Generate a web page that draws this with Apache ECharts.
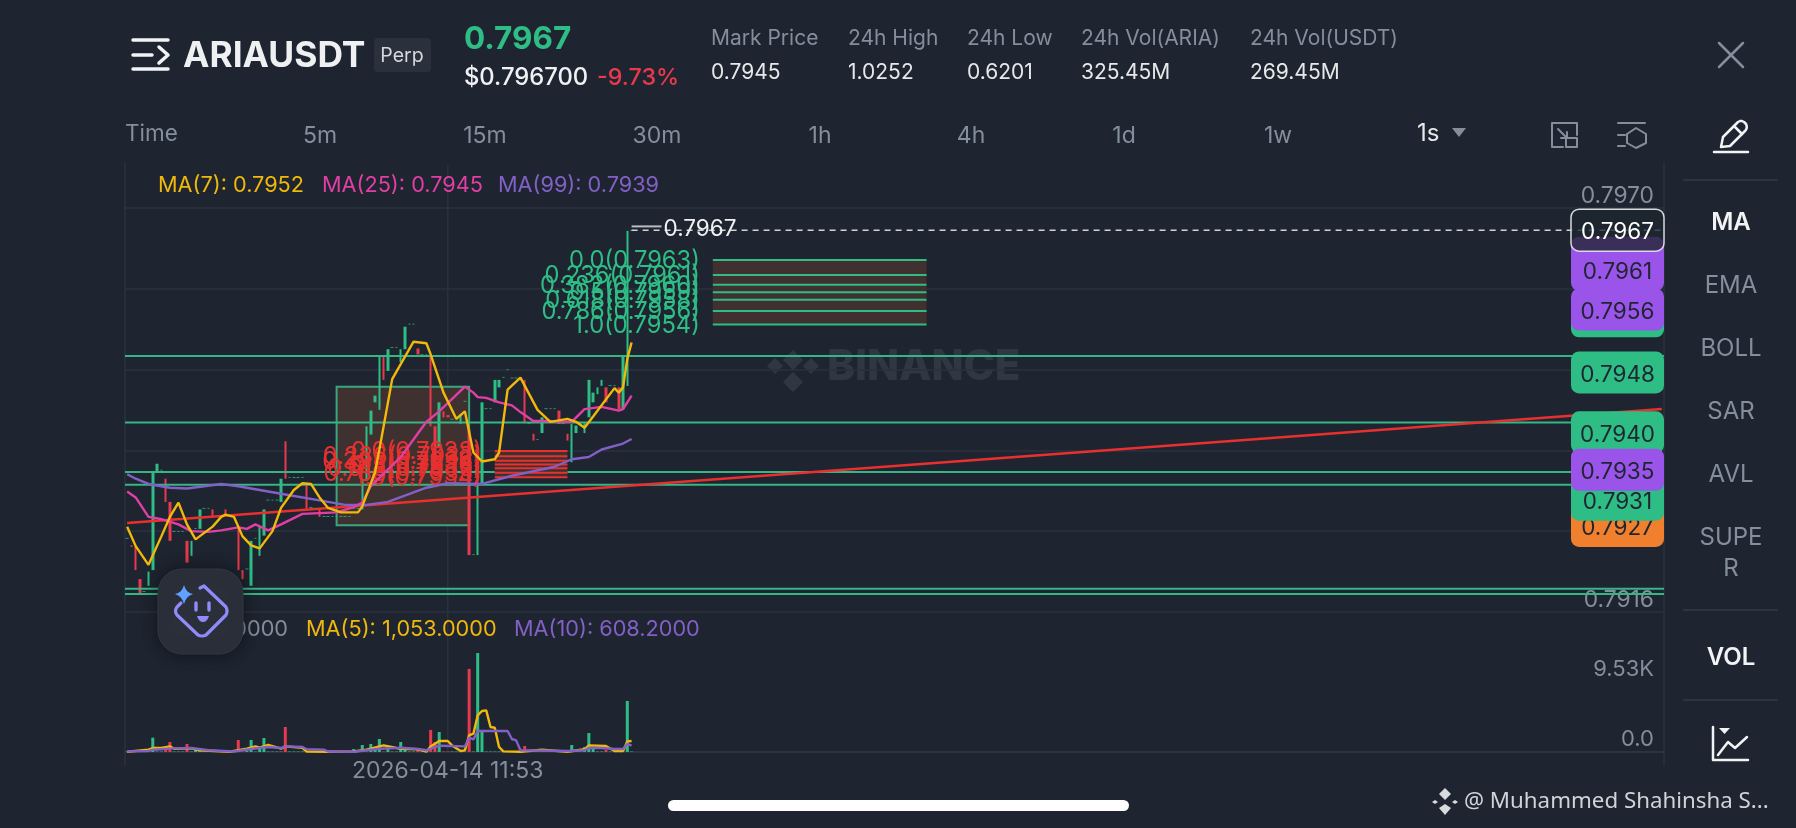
<!DOCTYPE html>
<html><head><meta charset="utf-8"><title>ARIAUSDT</title>
<style>html,body{margin:0;background:#1e2530}#c{width:1796px;height:828px}</style>
<script src="https://cdn.jsdelivr.net/npm/echarts@6/dist/echarts.min.js"></script>
</head><body><div id="c"></div>
<script>
const opens=[.79258,.79249,.79248,.79204,.79187,.79195,.79216,.79348,.79349,.79338,.79307,.79267,.79267,.79267,.79255,.79235,.79271,.79271,.79298,.79298,.79297,.79287,.79287,.79297,.79288,.79288,.79273,.79216,.79217,.79195,.79258,.79235,.79262,.79309,.79309,.79309,.79307,.79388,.79339,.79339,.79339,.79339,.7933,.79299,.79298,.79298,.79287,.79287,.79287,.79287,.79287,.79287,.79287,.79298,.79298,.79297,.79335,.79397,.7944,.7943,.79501,.79482,.79513,.79513,.79494,.79511,.79544,.79544,.79512,.79503,.79503,.79501,.79408,.79381,.79428,.79423,.79417,.79417,.79411,.79441,.79404,.79236,.79236,.7933,.79431,.79431,.7944,.7946,.79473,.79483,.79472,.79472,.7947,.7947,.79411,.79398,.7939,.79399,.79431,.79431,.79431,.79429,.79411,.79398,.7936,.79399,.79411,.79399,.7942,.7944,.79451,.79462,.7946,.79462,.79462,.7946,.79431,.79462,.79669];
const closes=[.79259,.79247,.79216,.79185,.79188,.79214,.79348,.79358,.7935,.79307,.79255,.79268,.79268,.79268,.79226,.79255,.79272,.79297,.79299,.79299,.79286,.79288,.79288,.79287,.79289,.79289,.79216,.79204,.79218,.79255,.79259,.79274,.79297,.7931,.7931,.7931,.79338,.79338,.7934,.7934,.7934,.7934,.79298,.793,.79299,.79287,.79288,.79288,.79288,.79288,.79288,.79288,.79288,.79299,.79299,.79335,.79408,.79429,.79449,.79501,.7947,.79511,.79514,.79514,.79511,.79541,.79545,.79545,.79504,.79504,.79504,.79408,.7935,.7944,.7942,.7942,.79418,.79418,.79424,.79442,.79236,.79237,.7933,.7944,.79432,.79432,.7947,.7947,.79474,.79484,.79473,.79473,.79471,.79412,.79412,.79389,.79391,.7942,.79432,.79432,.79432,.79411,.79412,.79389,.79411,.79409,.79412,.79412,.7947,.79453,.7946,.7947,.7944,.79463,.79463,.79431,.79501,.79669,.7967];
const volumes=[60,60,100,60,60,60,1950,60,60,400,1360,60,60,60,1090,60,270,270,60,60,60,60,60,60,60,60,1630,60,140,1630,60,410,1900,60,60,60,60,3400,60,60,60,60,60,60,60,60,60,60,60,60,60,60,60,410,60,950,60,1090,410,1770,60,410,60,60,1360,410,60,60,270,60,60,3000,1360,2720,60,60,60,60,60,60,11300,60,13460,2720,60,60,60,60,60,60,60,60,60,820,60,60,60,60,60,60,60,60,60,60,950,60,60,680,2580,410,60,60,270,60,60,60,60,6940,60];
const ma7=[[0,.79274],[2,.79248],[5,.79223],[8,.79261],[10,.79287],[12,.79306],[14,.79277],[16,.79257],[20,.79274],[22,.79287],[23,.7929],[25,.79287],[27,.79261],[29,.79249],[31,.79245],[34,.79268],[36,.79299],[39,.79323],[41,.79332],[43,.79331],[45,.79313],[47,.79299],[50,.79293],[54,.79293],[55,.79301],[58,.79347],[59,.79377],[60,.79408],[62,.79471],[65,.79501],[67,.79521],[70,.79519],[71,.79504],[74,.79453],[77,.79418],[79,.79428],[81,.79373],[83,.79361],[86,.79364],[87,.79373],[89,.79457],[92,.79473],[96,.7943],[99,.79414],[103,.79418],[105,.79414],[107,.79406],[109,.79421],[114,.79459],[115,.79453],[116,.7946],[117,.79498],[118,.7952]];
const ma25=[[0,.79321],[2,.79313],[5,.79287],[8,.79284],[12,.79277],[15,.79268],[19,.79267],[22,.79269],[26,.79273],[28,.79271],[30,.79277],[33,.79269],[36,.79277],[41,.79291],[49,.79293],[53,.793],[55,.79306],[57,.79328],[64,.79367],[70,.79414],[73,.79428],[79,.79461],[81,.79453],[82,.79447],[84,.79446],[87,.7944],[90,.79436],[92,.79427],[95,.79415],[98,.79415],[103,.79414],[104,.79414],[107,.79431],[111,.79434],[115,.79429],[116,.79431],[118,.79449]];
const ma99=[[0,.79344],[2,.79338],[5,.79331],[10,.79326],[14,.79325],[22,.79331],[26,.79328],[33,.79321],[37,.79317],[45,.79309],[51,.79303],[56,.79303],[61,.79307],[70,.79326],[75,.79332],[83,.79331],[90,.79342],[100,.79354],[104,.79364],[108,.79367],[111,.79377],[116,.79385],[118,.79391]];
const volMa5=[[0,30],[5,310],[6,540],[8,540],[10,760],[11,450],[15,490],[17,230],[24,40],[28,450],[30,760],[31,580],[33,950],[36,450],[37,760],[41,580],[42,70],[47,40],[53,70],[56,310],[59,760],[60,900],[63,540],[64,450],[68,370],[70,40],[71,760],[73,1500],[75,1500],[76,900],[78,140],[79,220],[80,2260],[81,2490],[82,4980],[83,5580],[84,5660],[85,3400],[86,3300],[87,680],[88,80],[92,40],[97,310],[103,40],[107,370],[108,900],[112,820],[114,140],[116,140],[117,1440],[118,1500]];
const volMa10=[[0,90],[5,140],[6,310],[11,490],[15,540],[19,230],[25,70],[29,410],[33,680],[36,540],[37,760],[41,680],[42,370],[46,310],[47,70],[53,40],[59,450],[63,540],[64,580],[68,410],[70,230],[73,860],[79,760],[80,1940],[81,1710],[82,2860],[89,2860],[90,1770],[91,1580],[92,230],[103,140],[107,230],[108,540],[111,540],[114,410],[116,410],[117,1090],[118,860]];
const levelPrices=[.79502,.79413,.79347,.7933,.79191,.79184];
const trendLine=[[0,.79279],[359,.79431]];
const boxRange=[49,80,.79461,.79276];
const fibGreenPrices=[.7963,.7961,.79597,.79587,.79577,.79562,.79544];
const fibGreenLabels=['0.0(0.7963)','0.236(0.7961)','0.382(0.7960)','0.5(0.7959)','0.618(0.7958)','0.786(0.7956)','1.0(0.7954)'];
const fibGreenSpan=[137,187];
const fibRedPrices=[.79375,.79368,.79362,.79357,.79352,.79346,.7934];
const fibRedLabels=['0.0(0.7938)','0.236(0.7937)','0.382(0.7936)','0.5(0.7936)','0.618(0.7935)','0.786(0.7935)','1.0(0.7934)'];
const fibRedSpan=[86,103];
const gridPrices=[.797,.79592,.79484,.79376,.79268,.7916];
const priceLabels=[.797,.7916];
const volLabels=[0,9530];
const lastPrice=.7967;
const highMark=[[118,.79675],[125,.79675]];
const tagPrices=[.79275,.7931,.794,.7948,.79555,.79633,.79617,.79564,.7935,.7967];
const tagLabels=['0.7927','0.7931','0.7940','0.7948','0.7955','0.7963','0.7961','0.7956','0.7935','0.7967'];
const tagKinds=['o','g','g','g','g','p','p','p','p','w'];
const timeTickIndex=75, timeTickLabel='2026-04-14 11:53', slotCount=360;

const BG='#1e2530',G='#2ebd85',R='#e8394d',RL='#e8302f',Y='#f0b90b',P='#e13fa5',V='#8260c6',GR='#848e9c',LINE='#2b323d',F='Inter, "Noto Sans", sans-serif';
const cats=Array.from({length:slotCount},(_,i)=>i===timeTickIndex?timeTickLabel:'');
const candles=opens.map((o,i)=>[o,closes[i],Math.min(o,closes[i]),Math.max(o,closes[i])]);

function fibSeries(name,prices,labels,span,color,fill){
  return {name,type:'custom',xAxisIndex:0,yAxisIndex:0,z:4,silent:true,clip:false,
    data:prices.map(p=>[span[0],p]),encode:{x:0,y:1},
    renderItem(params,api){
      const i=params.dataIndex,a=api.coord([span[0],prices[i]]),b=api.coord([span[1],prices[i]]),ch=[];
      if(i>0){const pr=api.coord([span[0],prices[i-1]]);
        ch.push({type:'rect',z2:0,shape:{x:a[0],y:pr[1],width:b[0]-a[0],height:a[1]-pr[1]},style:{fill}});}
      ch.push({type:'line',z2:2,shape:{x1:a[0],y1:a[1],x2:b[0],y2:a[1]},style:{stroke:color,lineWidth:2}});
      ch.push({type:'text',z2:3,style:{x:a[0]-13,y:a[1]+1,text:labels[i],fill:color,font:'400 23.7px '+F,textAlign:'right',textVerticalAlign:'middle'}});
      return {type:'group',children:ch};
    }};
}
const TAGC={o:['#f07f2e',BG],g:[G,BG],p:['#9a54ea',BG],w:['rgba(30,37,48,0.78)','#fff']};

const T=(text,x,y,o={})=>({type:'text',z:50,silent:true,style:{x,y,text,fill:o.c||GR,font:(o.w||400)+' '+(o.s||21)+'px '+(o.f||F),textAlign:o.a||'left',textVerticalAlign:'middle'}});
function icon(d,stroke,w,fill,z){
  const out=[];let pts=null,cx=0,cy=0;
  const tk=d.match(/[MLHVQZ]|-?[\d.]+/g);let k=0;
  const flush=(closed)=>{if(pts&&pts.length>1){out.push({type:(closed||fill)?'polygon':'polyline',z:z==null?50:z,silent:true,shape:{points:pts},
     style:{stroke:stroke||null,lineWidth:w||0,fill:fill||null,lineCap:'round',lineJoin:'round'}});}pts=null;};
  while(k<tk.length){const c=tk[k++];
    if(c==='M'){flush(false);cx=+tk[k++];cy=+tk[k++];pts=[[cx,cy]];}
    else if(c==='L'){cx=+tk[k++];cy=+tk[k++];pts.push([cx,cy]);}
    else if(c==='H'){cx=+tk[k++];pts.push([cx,cy]);}
    else if(c==='V'){cy=+tk[k++];pts.push([cx,cy]);}
    else if(c==='Q'){const qx=+tk[k++],qy=+tk[k++],ex=+tk[k++],ey=+tk[k++];
      for(let t=.25;t<=1;t+=.25){pts.push([(1-t)*(1-t)*cx+2*t*(1-t)*qx+t*t*ex,(1-t)*(1-t)*cy+2*t*(1-t)*qy+t*t*ey]);}cx=ex;cy=ey;}
    else if(c==='Z'){flush(true);}
  }
  flush(false);return out;
}
const graphic=[
 {type:'text',z:0,silent:true,style:{x:827,y:367,text:'BINANCE',fill:'#303742',font:'800 42px '+F,textVerticalAlign:'middle'}},
 icon('M793 350 L803 360 L793 370 L783 360 Z M775 358 L783 366 L775 374 L767 366 Z M811 358 L819 366 L811 374 L803 366 Z M793 372 L803 382 L793 392 L783 382 Z',null,0,'#303742',0),
 icon('M125 163 V765 M1664 163 V765',LINE,1.5,null,0),
 icon('M133 40 H168 M133 55 H152 M133 69 H168 M159 47 L168 55 L159 63','#f2f3f5',3.5),
 T('ARIAUSDT',183,56,{s:35.4,w:700,c:'#eef0f2'}),
 {type:'rect',z:49,silent:true,shape:{x:374,y:38,width:57,height:34,r:4},style:{fill:'#2a303c'}},
 T('Perp',402,56,{s:19.5,c:'#d5d8dc',a:'center'}),
 T('0.7967',464,40,{s:31.5,w:700,c:G}),
 T('$0.796700',464,78,{s:23.8,w:500,c:'#f0f1f3'}),
 T('-9.73%',597,78,{s:23.3,c:'#e8394d',w:500}),
 T('Mark Price',711,39,{s:21}),T('0.7945',711,73,{s:21,c:'#e6e8ea'}),
 T('24h High',848,39,{s:21}),T('1.0252',848,73,{s:21,c:'#e6e8ea'}),
 T('24h Low',967,39,{s:21}),T('0.6201',967,73,{s:21,c:'#e6e8ea'}),
 T('24h Vol(ARIA)',1081,39,{s:21}),T('325.45M',1081,73,{s:21,c:'#e6e8ea'}),
 T('24h Vol(USDT)',1250,39,{s:21}),T('269.45M',1250,73,{s:21,c:'#e6e8ea'}),
 icon('M1719 43 L1743 67 M1743 43 L1719 67',GR,2.5),
 T('Time',125,134,{s:22.5}),T('5m',320,136,{s:23,a:'center'}),T('15m',485,136,{s:23,a:'center'}),T('30m',657,136,{s:23,a:'center'}),
 T('1h',820,136,{s:23,a:'center'}),T('4h',971,136,{s:23,a:'center'}),T('1d',1124,136,{s:23,a:'center'}),T('1w',1278,136,{s:23,a:'center'}),
 T('1s',1417,134,{s:24,c:'#e6e8ea'}),
 icon('M1452 128 H1466 L1459 137 Z',null,0,GR),
 icon('M1564 123 H1552 V147 H1563 M1577 135 V123 H1564 M1558 129 L1567 138 M1567 132 V138 H1561',GR,2),
 icon('M1566 138 H1577 V147 H1566 Z',GR,2),
 icon('M1618 123 H1645 M1618 135 H1625 M1618 146 H1625',GR,2),
 icon('M1636 128 L1646 134 V143 L1636 148 L1627 143 V134 Z',GR,2),
 icon('M1721 147 L1723 137 L1738 122 Q1742 119 1746 124 Q1748 128 1745 131 L1730 146 Z',"#f2f3f5",2.5),
 icon('M1734 126 L1742 134 M1714 152 H1748','#f2f3f5',2.5),
 T('MA(7): 0.7952',158,185,{s:21.7,c:Y}),T('MA(25): 0.7945',322,185,{s:21.7,c:P}),T('MA(99): 0.7939',498,185,{s:21.7,c:V}),
 T('53.0000',288,629,{s:21.7,c:GR,a:'right'}),T('MA(5): 1,053.0000',306,629,{s:21.7,c:Y}),T('MA(10): 608.2000',514,629,{s:21.7,c:V}),
 icon('M1684 180 H1777 M1684 610 H1777 M1684 700 H1777','#2e353f',2),
 T('MA',1731,223,{s:24,w:600,c:'#f2f3f5',a:'center'}),T('EMA',1731,286,{s:24,a:'center'}),T('BOLL',1731,349,{s:24,a:'center'}),
 T('SAR',1731,412,{s:24,a:'center'}),T('AVL',1731,475,{s:24,a:'center'}),T('SUPE',1731,538,{s:24,a:'center'}),T('R',1731,569,{s:24,a:'center'}),
 T('VOL',1731,658,{s:24,w:600,c:'#f2f3f5',a:'center'}),
 icon('M1713 727 V760 H1748 M1718 755 L1728 742 L1735 748 L1747 737','#f2f3f5',2.5),
 icon('M1719 728 H1730 L1724.5 734 Z',null,0,'#f2f3f5'),
 {type:'rect',z:50,silent:true,shape:{x:668,y:800,width:461,height:11,r:5.5},style:{fill:'#fff'}},
 icon('M1445 788 L1451 794 L1445 800 L1439 794 Z M1445 804 L1451 808 L1445 815 L1439 808 Z M1435 800 L1438 802 L1435 804 L1432 802 Z M1455 800 L1458 802 L1455 804 L1452 802 Z',null,0,'#d8dade'),
 T('@ Muhammed Shahinsha S...',1464,802,{s:22.3,c:'#d0d3d8',f:'"Noto Sans", sans-serif'}),
 {type:'rect',z:60,silent:true,shape:{x:158,y:569,width:85,height:85,r:24},style:{fill:'#2a2f3a',shadowBlur:16,shadowColor:'rgba(0,0,0,.45)',stroke:'#333844',lineWidth:1}},
 icon('M200 588 L204 586 L226 607 Q228 611 226 615 L206 635 Q202 637 198 635 L177 615 Q174 611 177 607 L181 603','#8f8bfb',3.2,null,61),
 icon('M184 585 Q186 593 193 594 Q186 596 184 604 Q182 596 175 594 Q182 593 184 585 Z',null,0,'#62a0ff',61),
 icon('M196 603 V610 M209 603 V610','#8f8bfb',3.4,null,61),
 icon('M197 616 H209 Q207 622 203 622 Q199 622 197 616 Z',null,0,'#8f8bfb',61)
].flat();

const option={
 animation:false,backgroundColor:BG,
 textStyle:{fontFamily:F},
 grid:[{left:125,right:132,top:165,height:447},{left:125,right:132,top:612,height:140}],
 xAxis:[
  {type:'category',gridIndex:0,data:cats,show:false},
  {type:'category',gridIndex:1,data:cats,axisTick:{show:false},axisLine:{lineStyle:{color:'#2e353f',width:2}},splitLine:{show:false},
   axisLabel:{interval:(i)=>i===timeTickIndex,color:GR,fontSize:23,margin:8,fontFamily:F}}
 ],
 yAxis:[
  {type:'value',gridIndex:0,position:'right',min:.7916,max:.79757,axisLine:{show:false},
   axisTick:{show:false,customValues:gridPrices},splitLine:{show:true,lineStyle:{color:LINE,width:1.5}},
   axisLabel:{customValues:priceLabels,inside:true,margin:10,color:GR,fontSize:22.8,verticalAlign:'bottom',formatter:v=>v.toFixed(4),fontFamily:F}},
  {type:'value',gridIndex:1,position:'right',min:0,max:19040,axisLine:{show:false},axisTick:{show:false},splitLine:{show:false},
   axisLabel:{customValues:volLabels,inside:true,margin:10,color:GR,fontSize:22,verticalAlign:'bottom',padding:[0,0,2,0],formatter:v=>v===0?'0.0':(v/1000).toFixed(2)+'K',fontFamily:F}}
 ],
 series:[
  {name:'timeGuideMain',type:'custom',xAxisIndex:0,yAxisIndex:0,z:1,silent:true,clip:false,data:[[timeTickIndex,.795]],encode:{x:0,y:1},
   renderItem(p,api){const x=api.coord([timeTickIndex,.795])[0],c=p.coordSys;return{type:'line',shape:{x1:x,y1:c.y,x2:x,y2:c.y+c.height},style:{stroke:LINE,lineWidth:1.5}};}},
  {name:'timeGuideVol',type:'custom',xAxisIndex:1,yAxisIndex:1,z:1,silent:true,clip:false,data:[[timeTickIndex,0]],encode:{x:0,y:1},
   renderItem(p,api){const x=api.coord([timeTickIndex,0])[0],c=p.coordSys;return{type:'line',shape:{x1:x,y1:c.y,x2:x,y2:c.y+c.height},style:{stroke:LINE,lineWidth:1.5}};}},
  {name:'box',type:'custom',xAxisIndex:0,yAxisIndex:0,z:1,silent:true,clip:false,data:[boxRange],encode:{x:[0,1],y:[2,3]},
   renderItem(p,api){const a=api.coord([boxRange[0],boxRange[2]]),b=api.coord([boxRange[1],boxRange[3]]);
    return{type:'rect',shape:{x:a[0],y:a[1],width:b[0]-a[0],height:b[1]-a[1]},style:{fill:'#403131',stroke:'#3aa67c',lineWidth:2}};}},
  {name:'candles',type:'candlestick',xAxisIndex:0,yAxisIndex:0,z:3,silent:true,barWidth:3,data:candles,
   itemStyle:{color:G,color0:R,borderColor:G,borderColor0:R,borderWidth:0}},
  {name:'levels',type:'custom',xAxisIndex:0,yAxisIndex:0,z:4,silent:true,clip:false,data:levelPrices.map(p=>[0,p]),encode:{x:0,y:1},
   renderItem(p,api){const y=api.coord([0,levelPrices[p.dataIndex]])[1],c=p.coordSys;
    return{type:'line',shape:{x1:c.x,y1:y,x2:c.x+c.width,y2:y},style:{stroke:'#35b684',lineWidth:2}};}},
  {name:'trend',type:'line',xAxisIndex:0,yAxisIndex:0,z:5,silent:true,data:trendLine,showSymbol:false,lineStyle:{color:RL,width:2.5}},
  fibSeries('fibGreen',fibGreenPrices,fibGreenLabels,fibGreenSpan,G,'#40302f'),
  fibSeries('fibRed',fibRedPrices,fibRedLabels,fibRedSpan,RL,'#40302f'),
  {name:'MA(99)',type:'line',xAxisIndex:0,yAxisIndex:0,z:6,silent:true,data:ma99,showSymbol:false,lineStyle:{color:V,width:2.4}},
  {name:'MA(25)',type:'line',xAxisIndex:0,yAxisIndex:0,z:6,silent:true,data:ma25,showSymbol:false,lineStyle:{color:P,width:2.4}},
  {name:'MA(7)',type:'line',xAxisIndex:0,yAxisIndex:0,z:6,silent:true,data:ma7,showSymbol:false,lineStyle:{color:Y,width:2.4}},
  {name:'lastPrice',type:'custom',xAxisIndex:0,yAxisIndex:0,z:6,silent:true,clip:false,data:[[118,lastPrice]],encode:{x:0,y:1},
   renderItem(p,api){const a=api.coord([118,lastPrice]),c=p.coordSys;
    return{type:'line',shape:{x1:a[0],y1:a[1],x2:c.x+c.width,y2:a[1]},style:{stroke:'#cfd2d6',lineWidth:1.5,lineDash:[6,5]}};}},
  {name:'high',type:'line',xAxisIndex:0,yAxisIndex:0,z:6,silent:true,data:highMark,showSymbol:false,lineStyle:{color:'#b9bdc3',width:2},
   endLabel:{show:true,formatter:'0.7967',color:'#f0f1f3',fontSize:22.5,distance:2,offset:[0,3],fontFamily:F}},
  {name:'tags',type:'custom',xAxisIndex:0,yAxisIndex:0,z:7,silent:true,clip:false,data:tagPrices.map(p=>[0,p]),encode:{x:0,y:1},
   renderItem(p,api){const i=p.dataIndex,y=api.coord([0,tagPrices[i]])[1],c=p.coordSys,k=TAGC[tagKinds[i]],right=c.x+c.width,w=tagKinds[i]==='w';
    return{type:'group',children:[
     {type:'rect',z2:i*2,shape:{x:right-93,y:y-21,width:93,height:42,r:8},style:{fill:k[0],stroke:w?'#d8dade':null,lineWidth:w?1.5:0}},
     {type:'text',z2:i*2+1,style:{x:right-46.5,y:y+2.5,text:tagLabels[i],fill:k[1],font:'400 22.5px '+F,textAlign:'center',textVerticalAlign:'middle'}}]};}},
  {name:'VOL',type:'bar',xAxisIndex:1,yAxisIndex:1,z:3,silent:true,barWidth:3,
   data:volumes.map((v,i)=>({value:v,itemStyle:{color:closes[i]>=opens[i]?G:R}}))},
  {name:'MA(5)',type:'line',xAxisIndex:1,yAxisIndex:1,z:6,silent:true,data:volMa5,showSymbol:false,lineStyle:{color:Y,width:2.4}},
  {name:'MA(10)',type:'line',xAxisIndex:1,yAxisIndex:1,z:6,silent:true,data:volMa10,showSymbol:false,lineStyle:{color:V,width:2.4}}
 ],
 graphic:{elements:graphic}
};
const chart=echarts.init(document.getElementById('c'),null,{renderer:'canvas',width:1796,height:828});
chart.setOption(option);
</script></body></html>
